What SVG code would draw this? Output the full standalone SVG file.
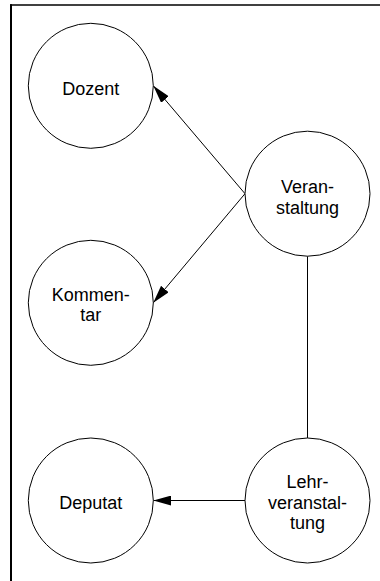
<svg xmlns="http://www.w3.org/2000/svg" width="380" height="581" viewBox="0 0 380 581">
  <style>
    .node circle { fill: #ffffff; stroke: #000000; stroke-width: 1; }
    .node text { font-family: "Liberation Sans", Arial, sans-serif; font-size: 18px; fill: #000000; text-anchor: middle; }
    .edge { stroke: #000000; stroke-width: 1; fill: none; }
    .frame { stroke: #000000; fill: none; }
  </style>
  <defs>
    <marker id="arrow" viewBox="0 0 18 10" refX="18" refY="5" markerWidth="18" markerHeight="10" markerUnits="userSpaceOnUse" orient="auto">
      <path d="M0,0 L18,5 L0,10 Z" fill="#000000"/>
    </marker>
  </defs>
  <rect width="380" height="581" fill="#ffffff"/>

  <!-- frame: top and left rules -->
  <g id="frame">
    <line class="frame" x1="10" y1="5" x2="380" y2="5" stroke-width="1.6"/>
    <line class="frame" x1="11" y1="4.2" x2="11" y2="581" stroke-width="2"/>
  </g>

  <!-- connectors -->
  <g id="connectors">
    <line class="edge" x1="245" y1="193.7" x2="153.3" y2="85.8" marker-end="url(#arrow)"/>
    <line class="edge" x1="245" y1="193.7" x2="153.3" y2="302.8" marker-end="url(#arrow)"/>
    <line class="edge" x1="245" y1="500.5" x2="153.3" y2="500.5" stroke="#444" marker-end="url(#arrow)"/>
    <line class="edge" x1="307.5" y1="256.2" x2="307.5" y2="438" stroke="#444"/>
  </g>

  <g id="dozent" class="node">
    <circle cx="90.8" cy="85.8" r="62.5"/>
    <text x="90.8" y="95">Dozent</text>
  </g>

  <g id="veranstaltung" class="node">
    <circle cx="307.5" cy="193.7" r="62.5"/>
    <text x="307.5" y="192.5">Veran-</text>
    <text x="307.5" y="213.5">staltung</text>
  </g>

  <g id="kommentar" class="node">
    <circle cx="90.8" cy="302.8" r="62.5"/>
    <text x="90.8" y="300.7">Kommen-</text>
    <text x="90.8" y="321.2">tar</text>
  </g>

  <g id="deputat" class="node">
    <circle cx="90.8" cy="500.5" r="62.5"/>
    <text x="90.8" y="509.3">Deputat</text>
  </g>

  <g id="lehrveranstaltung" class="node">
    <circle cx="307.5" cy="500.5" r="62.5"/>
    <text x="307.5" y="488">Lehr-</text>
    <text x="307.5" y="508.5">veranstal-</text>
    <text x="307.5" y="529">tung</text>
  </g>
</svg>
